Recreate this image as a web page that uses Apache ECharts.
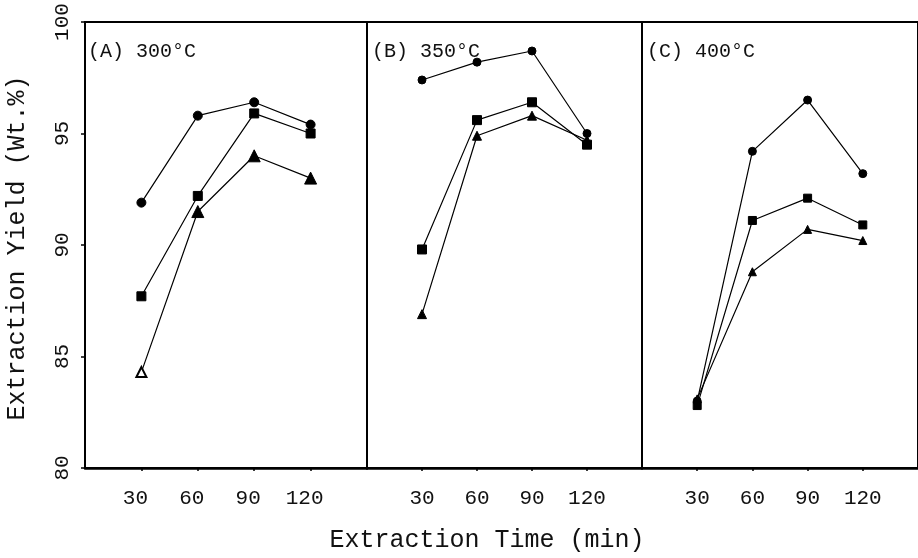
<!DOCTYPE html>
<html>
<head>
<meta charset="utf-8">
<script src="https://cdn.jsdelivr.net/npm/echarts@6/dist/echarts.min.js"></script>
<style>html,body{margin:0;padding:0;background:#fff}#c{width:918px;height:558px}</style>
</head>
<body>
<div id="c"></div>
<script>
// ---- data ----
var times = [30, 60, 90, 120];
var xTicks = [30, 60, 90, 120];
var yTicks = [80, 85, 90, 95, 100];
var panelTitles = ['(A) 300°C', '(B) 350°C', '(C) 400°C'];
var yieldA_circle   = [91.9, 95.8, 96.4, 95.4];
var yieldA_square   = [87.7, 92.2, 95.9, 95.0];
var yieldA_triangle = [84.3, 91.5, 94.0, 93.0];
var yieldB_circle   = [97.4, 98.2, 98.7, 95.0];
var yieldB_square   = [89.8, 95.6, 96.4, 94.5];
var yieldB_triangle = [86.9, 94.9, 95.8, 94.7];
var yieldC_circle   = [83.0, 94.2, 96.5, 93.2];
var yieldC_square   = [82.8, 91.1, 92.1, 90.9];
var yieldC_triangle = [83.1, 88.8, 90.7, 90.2];
var xTitle = 'Extraction Time (min)';
var yTitle = 'Extraction Yield (Wt.%)';

var FONT = "'Liberation Mono', 'Courier New', monospace";
var chart = echarts.init(document.getElementById('c'), null, {renderer: 'canvas'});

var grids = [
  {left: 85, top: 22, width: 282, height: 446},
  {left: 367, top: 22, width: 275, height: 446},
  {left: 642, top: 22, width: 280, height: 446}
];
grids.forEach(function (g) { g.show = true; g.borderColor = '#000'; g.borderWidth = 2; g.backgroundColor = 'transparent'; });

var xAxes = [0, 1, 2].map(function (i) {
  return {
    type: 'value', gridIndex: i, min: 0, max: 150, interval: 30,
    axisLine: {show: true, lineStyle: {color: '#000', width: 2.5}},
    axisTick: {show: true, length: 3, lineStyle: {color: '#000', width: 1.5},
      customValues: xTicks},
    axisLabel: {show: true, color: '#111', fontFamily: FONT, fontSize: 21, margin: 20,
      customValues: xTicks,
      padding: i === 0 ? [0, 12, 0, 0] : 0},
    splitLine: {show: false}
  };
});
var yAxes = [0, 1, 2].map(function (i) {
  return {
    type: 'value', gridIndex: i, min: 80, max: 100, interval: 5,
    axisLine: {show: true, lineStyle: {color: '#000', width: 2}},
    axisTick: {show: i === 0, length: 4, lineStyle: {color: '#000', width: 1.5}},
    axisLabel: {show: i === 0, rotate: 90, color: '#111', fontFamily: FONT, fontSize: 21, margin: 12,
      customValues: yTicks},
    splitLine: {show: false}
  };
});

function pts(vals) { return vals.map(function (v, k) { return [times[k], v]; }); }
function mk(idx, vals, symbol, size, extra) {
  var data = pts(vals);
  if (extra) data = extra(data);
  return {
    type: 'line', xAxisIndex: idx, yAxisIndex: idx, data: data,
    symbol: symbol, symbolSize: size, showSymbol: true,
    lineStyle: {color: '#000', width: 1.2},
    itemStyle: {color: '#000', borderColor: '#000', borderWidth: 1},
    emphasis: {disabled: true}, animation: false, z: 3
  };
}

var series = [
  mk(0, yieldA_circle, 'circle', 9),
  mk(0, yieldA_square, 'rect', 9),
  mk(0, yieldA_triangle, 'triangle', 12, function (d) {
    d[0] = {value: d[0], symbol: 'emptyTriangle', symbolSize: 10, itemStyle: {color: '#000', borderColor: '#000', borderWidth: 1.5}};
    return d;
  }),
  mk(1, yieldB_circle, 'circle', 8),
  mk(1, yieldB_triangle, 'triangle', 9),
  mk(1, yieldB_square, 'rect', 9),
  mk(2, yieldC_circle, 'circle', 8),
  mk(2, yieldC_square, 'rect', 8),
  mk(2, yieldC_triangle, 'triangle', 8)
];

var titleX = [88, 372, 647];
var graphics = panelTitles.map(function (t, i) {
  return {type: 'text', left: titleX[i], top: 42, z: 10, silent: true,
    style: {text: t, font: '20px ' + FONT, fill: '#111'}};
});
graphics.push({type: 'text', z: 10, silent: true, x: 487, y: 540,
  style: {text: xTitle, font: '25px ' + FONT, fill: '#111', x: 0, y: 0,
    align: 'center', verticalAlign: 'middle', textAlign: 'center', textVerticalAlign: 'middle'}});
graphics.push({type: 'text', z: 10, silent: true, x: 17, y: 248, rotation: Math.PI / 2,
  style: {text: yTitle, font: '25px ' + FONT, fill: '#111', x: 0, y: 0,
    align: 'center', verticalAlign: 'middle', textAlign: 'center', textVerticalAlign: 'middle'}});

chart.setOption({
  backgroundColor: '#fff',
  animation: false,
  grid: grids,
  xAxis: xAxes,
  yAxis: yAxes,
  series: series,
  graphic: graphics
});
</script>
</body>
</html>
